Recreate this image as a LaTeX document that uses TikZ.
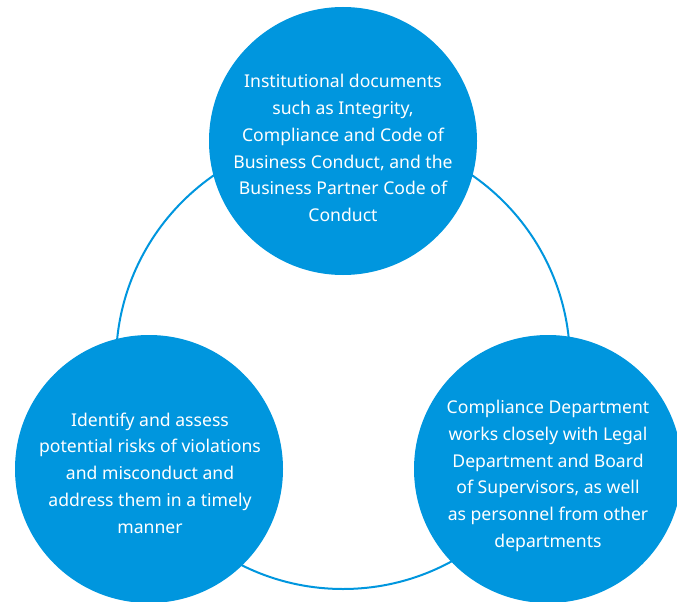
\documentclass[tikz,border=0pt]{standalone}
\usepackage{fontspec}
\setmainfont{Noto Sans}
\definecolor{cblue}{RGB}{0,150,222}
\begin{document}
\begin{tikzpicture}[x=1pt,y=-1pt,
  bubble/.style={circle,fill=cblue,minimum size=268pt,inner sep=0pt},
  label/.style={text=white,align=center,font=\fontsize{17.6}{26.8}\selectfont},
  ring/.style={draw=cblue,line width=2pt}]
\useasboundingbox (0,0) rectangle (677,602);
\node[circle,ring,minimum size=454pt,inner sep=0pt] (r) at (343,362) {};
\node[bubble] (top) at (343,141) {};
\node[bubble] (left) at (149,469) {};
\node[bubble] (right) at (548,469) {};
\node[label] (tt) at (343,148) {Institutional documents\\such as Integrity,\\Compliance and Code of\\Business Conduct, and the\\Business Partner Code of\\Conduct};
\node[label] (lt) at (150,473) {Identify and assess\\potential risks of violations\\and misconduct and\\address them in a timely\\manner};
\node[label] (rt) at (548,476) {Compliance Department\\works closely with Legal\\Department and Board\\of Supervisors, as well\\as personnel from other\\departments};
\end{tikzpicture}
\end{document}
